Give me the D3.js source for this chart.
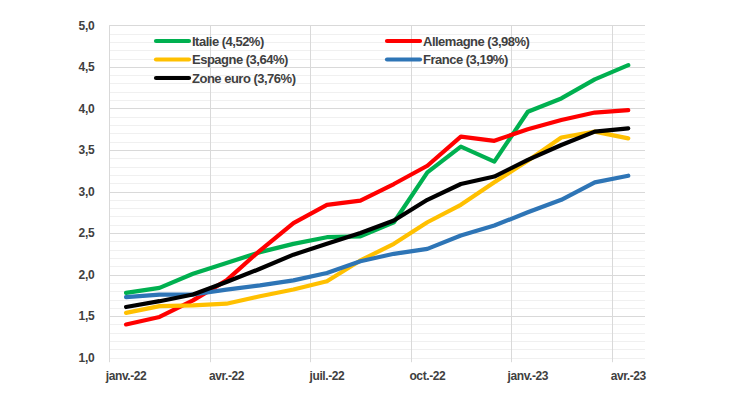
<!DOCTYPE html>
<html><head><meta charset="utf-8">
<script src="https://cdn.jsdelivr.net/npm/d3@7"></script>
<style>
html,body{margin:0;padding:0;background:#fff;}
svg text{font-family:"Liberation Sans",Arial,sans-serif;}
</style></head>
<body>
<script>
const months = ["janv.-22","févr.-22","mars-22","avr.-22","mai-22","juin-22","juil.-22","août-22","sept.-22","oct.-22","nov.-22","déc.-22","janv.-23","févr.-23","mars-23","avr.-23"];
const tickLabels = ["janv.-22","avr.-22","juil.-22","oct.-22","janv.-23","avr.-23"];
const yTicks = [1.0,1.5,2.0,2.5,3.0,3.5,4.0,4.5,5.0];
const seriesNames = ["Italie (4,52%)","Allemagne (3,98%)","Espagne (3,64%)","France (3,19%)","Zone euro (3,76%)"];
const seriesColors = ["#00b050","#ff0000","#ffc000","#2e75b6","#000000"];
const italie    = [1.78,1.84,2.01,2.14,2.27,2.37,2.45,2.46,2.63,3.23,3.54,3.36,3.96,4.12,4.35,4.52];
const allemagne = [1.40,1.49,1.69,1.93,2.29,2.62,2.84,2.89,3.09,3.31,3.66,3.61,3.75,3.86,3.95,3.98];
const espagne   = [1.54,1.62,1.63,1.65,1.74,1.82,1.92,2.17,2.37,2.63,2.84,3.11,3.37,3.65,3.72,3.64];
const france    = [1.73,1.76,1.76,1.82,1.87,1.93,2.02,2.16,2.25,2.31,2.47,2.59,2.75,2.90,3.11,3.19];
const zoneEuro  = [1.61,1.68,1.76,1.91,2.07,2.24,2.37,2.50,2.65,2.90,3.09,3.18,3.38,3.56,3.72,3.76];
const allSeries = [italie, allemagne, espagne, france, zoneEuro];

const W = 730, H = 410;
const pLeft = 109.3, pRight = 645, pTop = 25.3, pBottom = 357.7;

const svg = d3.select("body").append("svg").attr("width", W).attr("height", H);

const x = d3.scaleBand().domain(months).range([pLeft, pRight]).paddingInner(0).paddingOuter(0);
const xc = m => x(m) + x.bandwidth() / 2;
const y = d3.scaleLinear().domain([1, 5]).range([pBottom, pTop]);

// minor gridlines
const minor = d3.range(10, 51).map(v => v / 10).filter(v => Math.abs(v * 2 - Math.round(v * 2)) > 1e-6);
svg.append("g").selectAll("line").data(minor).join("line")
  .attr("x1", pLeft).attr("x2", pRight)
  .attr("y1", d => Math.round(y(d)) + 0.5).attr("y2", d => Math.round(y(d)) + 0.5)
  .attr("stroke", "#f0f0f0").attr("stroke-width", 1);

// major horizontal gridlines
svg.append("g").selectAll("line").data(yTicks.filter(v => v > 1)).join("line")
  .attr("x1", pLeft).attr("x2", pRight)
  .attr("y1", d => Math.round(y(d)) + 0.5).attr("y2", d => Math.round(y(d)) + 0.5)
  .attr("stroke", "#d9d9d9").attr("stroke-width", 1);
// baseline (light)
svg.append("line").attr("x1", pLeft).attr("x2", pRight)
  .attr("y1", Math.round(y(1)) + 0.5).attr("y2", Math.round(y(1)) + 0.5)
  .attr("stroke", "#f0f0f0");

// vertical gridlines at category boundaries every 3 months
svg.append("g").selectAll("line").data(tickLabels).join("line")
  .attr("x1", d => Math.round(x(d)) + 0.5).attr("x2", d => Math.round(x(d)) + 0.5)
  .attr("y1", pTop).attr("y2", pBottom + 4.5)
  .attr("stroke", "#d9d9d9").attr("stroke-width", 1);

// Y axis labels
const yAxis = d3.axisLeft(y).tickValues(yTicks).tickSize(0).tickPadding(15)
  .tickFormat(d => d3.format(".1f")(d).replace(".", ","));
const gy = svg.append("g").attr("transform", `translate(${pLeft},0)`).call(yAxis);
gy.select(".domain").remove();
gy.selectAll("text").attr("font-size", 12).attr("font-weight", "bold").attr("fill", "#404040")
  .attr("font-family", '"Liberation Sans",Arial,sans-serif').attr("letter-spacing", -0.3);

// X axis labels
const xAxis = d3.axisBottom(x).tickValues(tickLabels).tickSize(0).tickPadding(14);
const gx = svg.append("g").attr("transform", `translate(0,${pBottom})`).call(xAxis);
gx.select(".domain").remove();
gx.selectAll("text").attr("font-size", 12).attr("font-weight", "bold").attr("fill", "#404040")
  .attr("font-family", '"Liberation Sans",Arial,sans-serif').attr("letter-spacing", -0.4);

// lines
const line = d3.line().x((d, i) => xc(months[i])).y(d => y(d));
svg.append("g").selectAll("path").data(allSeries).join("path")
  .attr("d", d => line(d))
  .attr("fill", "none")
  .attr("stroke", (d, i) => seriesColors[i])
  .attr("stroke-width", 4.2)
  .attr("stroke-linejoin", "round")
  .attr("stroke-linecap", "round");

// legend
const legendPos = [[155, 41], [386, 41], [155, 59.5], [386, 59.5], [155, 78]];
const lg = svg.append("g").selectAll("g").data(seriesNames).join("g")
  .attr("transform", (d, i) => `translate(${legendPos[i][0]},${legendPos[i][1]})`);
lg.append("line").attr("x1", 1).attr("x2", 34).attr("y1", 0).attr("y2", 0)
  .attr("stroke", (d, i) => seriesColors[i]).attr("stroke-width", 4.2).attr("stroke-linecap", "round");
lg.append("text").attr("x", 37).attr("y", 0).attr("dy", "0.35em")
  .attr("font-size", 13).attr("font-weight", "bold").attr("fill", "#404040")
  .attr("letter-spacing", -0.5)
  .text(d => d);
</script>
</body></html>
